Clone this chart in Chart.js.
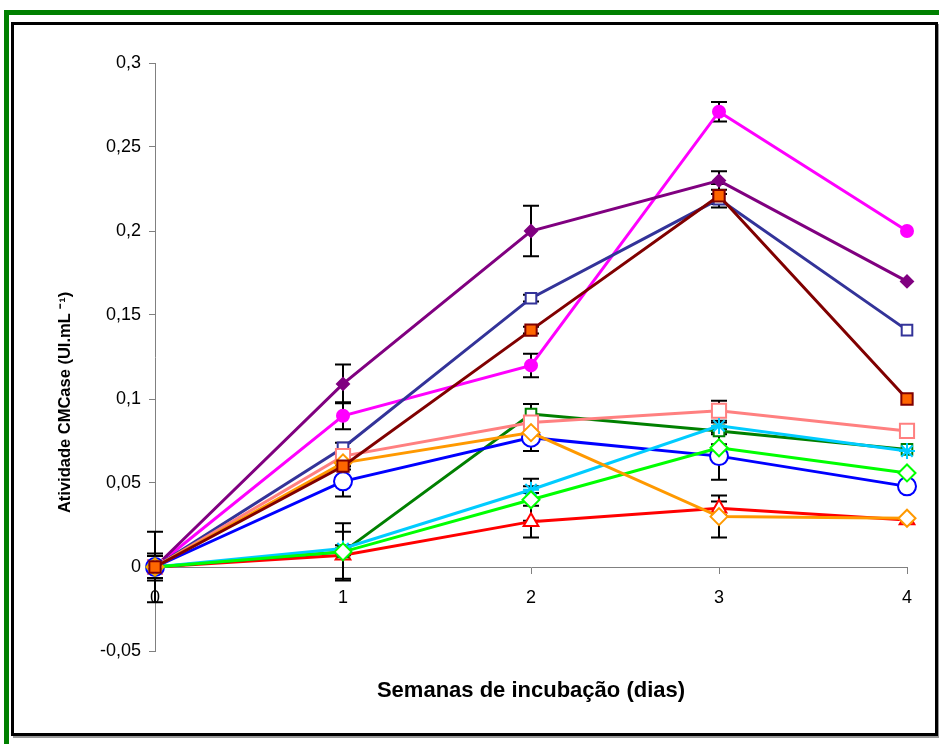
<!DOCTYPE html>
<html>
<head>
<meta charset="utf-8">
<script src="https://cdn.jsdelivr.net/npm/chart.js@4"></script>
<style>
  html, body { margin: 0; padding: 0; background: #fff; }
  body { width: 939px; height: 744px; position: relative; overflow: hidden; font-family: 'Liberation Sans', Arial, sans-serif; }
  #moldura  { position: absolute; left: 4px; top: 10px; width: 940px; height: 740px; border-top: 5px solid #008000; border-left: 5px solid #008000; }
  #quadro   { position: absolute; left: 11px; top: 22px; width: 921px; height: 708px; border: 3px solid #000; box-shadow: 2px 2px 0 #999; }
  #wrap     { position: absolute; left: 0; top: 0; width: 939px; height: 744px; }
</style>
</head>
<body>
<div id="moldura"></div>
<div id="quadro"></div>
<div id="wrap"><canvas id="grafico"></canvas></div>
<script>
// ── Dados ─────────────────────────────────────
const semanas = [0, 1, 2, 3, 4];
const yTicks  = [-0.05, 0, 0.05, 0.1, 0.15, 0.2, 0.25, 0.3];
const tituloY = 'Atividade CMCase (UI.mL ⁻¹)';
const tituloX = 'Semanas de incubação (dias)';

const roxo      = [0, 0.109, 0.200, 0.230, 0.170];
const roxoErr   = [0.021, 0.0115, 0.015, 0.0055, 0];
const magenta   = [0, 0.090, 0.120, 0.271, 0.200];
const magentaErr= [0.008, 0.008, 0.007, 0.0058, 0];
const marinho   = [0, 0.071, 0.160, 0.219, 0.141];
const marinhoErr= [0.0065, 0.003, 0.002, 0.003, 0];
const marrom    = [0, 0.060, 0.141, 0.221, 0.100];
const marromErr = [0, 0.002, 0.002, 0.007, 0];
const salmao    = [0, 0.066, 0.086, 0.093, 0.081];
const salmaoErr = [0, 0.002, 0.002, 0.006, 0];
const laranja   = [0, 0.062, 0.080, 0.030, 0.029];
const laranjaErr= [0, 0.002, 0.002, 0.0125, 0];
const azul      = [0, 0.051, 0.077, 0.066, 0.048];
const azulErr   = [0, 0.009, 0.008, 0.014, 0];
const verde     = [0, 0.009, 0.091, 0.081, 0.070];
const verdeErr  = [0, 0.017, 0.006, 0.002, 0];
const ciano     = [0, 0.011, 0.046, 0.084, 0.069];
const cianoErr  = [0, 0.002, 0.002, 0.002, 0];
const lima      = [0, 0.009, 0.040, 0.071, 0.056];
const limaErr   = [0, 0.002, 0.0125, 0.002, 0];
const vermelho  = [0, 0.007, 0.027, 0.035, 0.028];
const vermelhoErr = [0, 0.014, 0.0095, 0.004, 0];

// ── Séries (a primeira fica por cima) ─────────
function serie(nome, vals, err, cor, estilo, raio, fundo, borda) {
    return {
        label: nome,
        data: semanas.map((s, i) => ({ x: s, y: vals[i] })),
        err: err,
        borderColor: cor,
        borderWidth: 3,
        pointStyle: estilo,
        pointRadius: raio,
        pointBackgroundColor: fundo,
        pointBorderColor: borda || cor,
        pointBorderWidth: 2,
        tension: 0,
        fill: false,
        clip: false
    };
}

const datasets = [
    serie('Marrom',   marrom,   marromErr,   '#800000', 'rect',     8,   '#FF6600', '#800000'),
    serie('Laranja',  laranja,  laranjaErr,  '#FF9900', 'rectRot',  8.5, '#FFFFFF'),
    serie('Lima',     lima,     limaErr,     '#00FF00', 'rectRot',  8.5, '#FFFFFF'),
    serie('Ciano',    ciano,    cianoErr,    '#00CCFF', 'star',     8,   '#FFFFFF'),
    serie('Azul',     azul,     azulErr,     '#0000FF', 'circle',   9,   '#FFFFFF'),
    serie('Salmão',   salmao,   salmaoErr,   '#FF8080', 'rect',     10,  '#FFFFFF'),
    serie('Verde',    verde,    verdeErr,    '#008000', 'rect',     7.5, '#FFFFFF'),
    serie('Vermelho', vermelho, vermelhoErr, '#FF0000', 'triangle', 8.5, '#FFFFFF'),
    serie('Marinho',  marinho,  marinhoErr,  '#333399', 'rect',     7.5, '#FFFFFF'),
    serie('Roxo',     roxo,     roxoErr,     '#800080', 'rectRot',  6,   '#800080'),
    serie('Magenta',  magenta,  magentaErr,  '#FF00FF', 'circle',   6,   '#FF00FF')
];

// ── Barras de erro (desenhadas por baixo das séries) ──
const barrasErro = {
    id: 'barrasErro',
    beforeDatasetsDraw(chart) {
        const ctx = chart.ctx, xs = chart.scales.x, ys = chart.scales.y;
        ctx.save();
        ctx.strokeStyle = '#000';
        ctx.lineWidth = 2;
        chart.data.datasets.forEach(ds => {
            ds.data.forEach((p, i) => {
                const e = ds.err[i];
                if (!e) return;
                const x  = xs.getPixelForValue(p.x);
                const y1 = ys.getPixelForValue(p.y + e);
                const y2 = ys.getPixelForValue(p.y - e);
                ctx.beginPath();
                ctx.moveTo(x, y1); ctx.lineTo(x, y2);
                ctx.moveTo(x - 8, y1); ctx.lineTo(x + 8, y1);
                ctx.moveTo(x - 8, y2); ctx.lineTo(x + 8, y2);
                ctx.stroke();
            });
        });
        ctx.restore();
    }
};

// títulos dos eixos: Y um pouco abaixo do centro, X centrado na área do gráfico
const titulosEixos = {
    id: 'titulosEixos',
    afterDraw(chart) {
        const ctx = chart.ctx, ys = chart.scales.y, area = chart.chartArea;
        ctx.save();
        ctx.fillStyle = '#000';
        ctx.textAlign = 'center';
        ctx.textBaseline = 'middle';

        ctx.font = 'bold 22px "Liberation Sans"';
        ctx.fillText(tituloX, (area.left + area.right) / 2, area.bottom + 40);

        ctx.translate(65, ys.getPixelForValue(0.098));
        ctx.rotate(-Math.PI / 2);
        ctx.font = 'bold 16.5px "Liberation Sans"';
        ctx.fillText(tituloY, 0, 0);
        ctx.restore();
    }
};

const fmtY = v => {
    const s = (Math.round(v * 100) / 100).toString();
    return s.replace('.', ',');
};

new Chart(document.getElementById('grafico'), {
    type: 'line',
    data: { datasets },
    plugins: [barrasErro, titulosEixos],
    options: {
        responsive: true,
        maintainAspectRatio: false,
        animation: false,
        events: [],
        layout: { padding: { left: 48, right: 32, top: 63, bottom: 93 } },
        plugins: {
            legend: { display: false },
            tooltip: { enabled: false }
        },
        scales: {
            x: {
                type: 'linear',
                min: 0, max: 4,
                position: { y: 0 },
                ticks: { stepSize: 1, color: '#000', font: { family: 'Liberation Sans', size: 18 }, padding: 14 },
                grid: { drawOnChartArea: false, tickLength: 6, color: '#808080' },
                border: { color: '#808080', width: 1 }
            },
            y: {
                min: -0.05, max: 0.3,
                afterBuildTicks: s => { s.ticks = yTicks.map(v => ({ value: v })); },
                afterFit: s => { s.width = 155 - 48; },
                ticks: { color: '#000', font: { family: 'Liberation Sans', size: 18 }, padding: 8, callback: fmtY },
                grid: { drawOnChartArea: false, tickLength: 6, color: '#808080' },
                border: { color: '#808080', width: 1 }
            }
        }
    }
});
</script>
</body>
</html>
